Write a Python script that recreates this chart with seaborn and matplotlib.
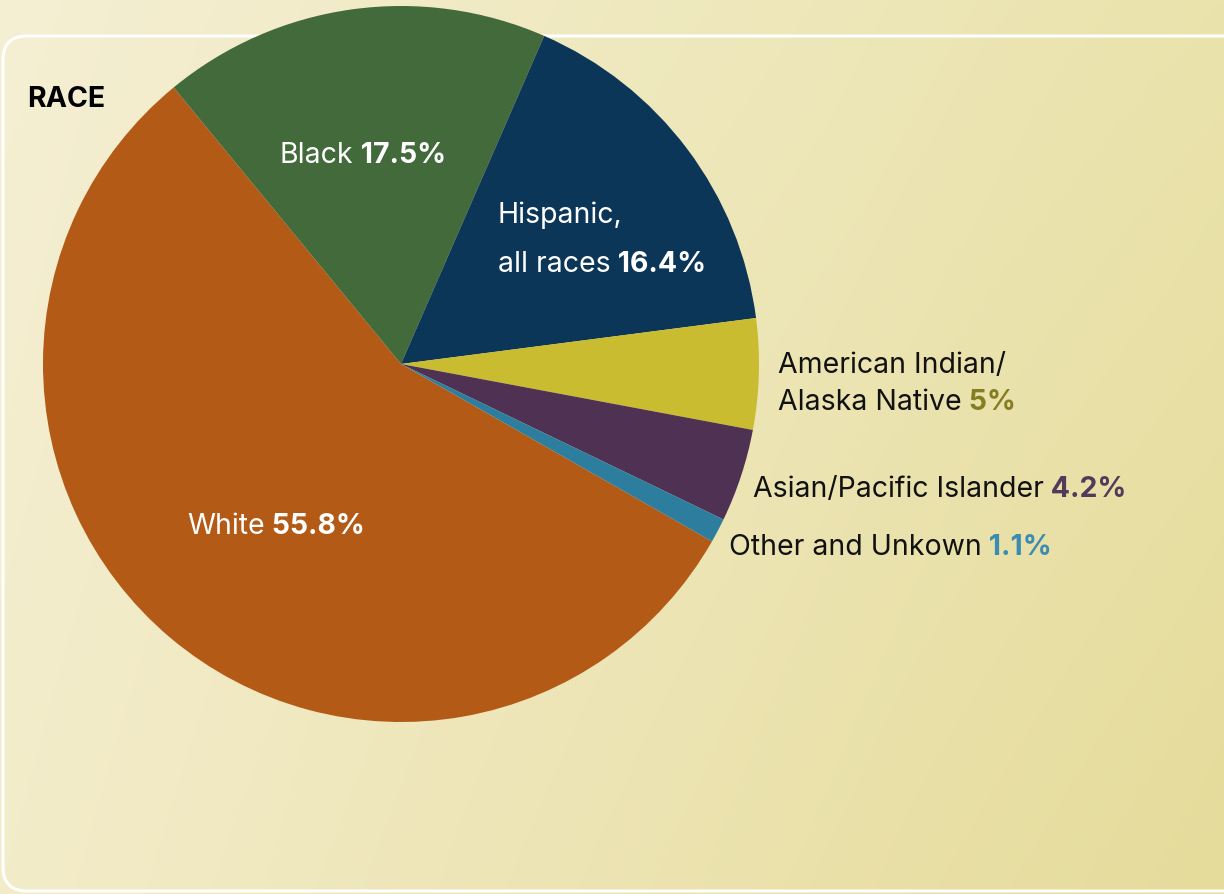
import numpy as np
import matplotlib
matplotlib.use("Agg")
import matplotlib.pyplot as plt
import seaborn as sns
from matplotlib.patches import FancyBboxPatch

# ---- data ----
categories = ["White", "Black", "Hispanic, all races", "American Indian/Alaska Native",
              "Asian/Pacific Islander", "Other and Unkown"]
shares = [55.8, 17.5, 16.4, 5.0, 4.2, 1.1]
share_labels = ["55.8%", "17.5%", "16.4%", "5%", "4.2%", "1.1%"]
slice_colors = ["#B35A17", "#436A3B", "#0C3658", "#C9BC30", "#4E3153", "#2D7D9E"]
title = "RACE"

sns.set_theme(style="white")
FONT = ["Inter", "DejaVu Sans"]
plt.rcParams["font.family"] = FONT

W, H = 1224, 895
fig = plt.figure(figsize=(W / 100, H / 100), dpi=100)

# ---- background gradient ----
bg = fig.add_axes([0, 0, 1, 1], zorder=0)
tl = np.array([0xF5, 0xEF, 0xD4]) / 255
tr = np.array([0xEA, 0xE3, 0xAC]) / 255
bl = np.array([0xF3, 0xEC, 0xC9]) / 255
br = np.array([0xE5, 0xDB, 0x9A]) / 255
u = np.linspace(0, 1, 300)[None, :, None]
v = np.linspace(0, 1, 220)[:, None, None]
grad = (1 - v) * ((1 - u) * tl + u * tr) + v * ((1 - u) * bl + u * br)
bg.imshow(grad, extent=[0, W, H, 0], aspect="auto", interpolation="bilinear")
bg.set_xlim(0, W)
bg.set_ylim(H, 0)
bg.axis("off")
panel = FancyBboxPatch((3, 37), 1260, 855, boxstyle="round,pad=0,rounding_size=24",
                       facecolor="none", edgecolor="white", linewidth=2.2)
bg.add_patch(panel)

# ---- pie ----
cx, cy, r = 401, 365, 358
ax = fig.add_axes([(cx - r) / W, (H - cy - r) / H, 2 * r / W, 2 * r / H], zorder=2)
ax.pie(shares, colors=sns.color_palette(slice_colors), startangle=-29.7,
       counterclock=False, radius=1.0, wedgeprops=dict(linewidth=0))
ax.set_xlim(-1, 1)
ax.set_ylim(-1, 1)
ax.axis("off")


def fpos(x, y):
    return x / W, 1 - y / H


FS = 20.5


def label(x, y, name, pct, color, pctcolor):
    t = fig.text(*fpos(x, y), name, fontsize=FS, color=color, ha="left",
                 va="baseline", zorder=5)
    if pct:
        plt.annotate(" " + pct, xy=(1, 0), xycoords=t, fontsize=FS,
                     fontweight="bold", color=pctcolor, ha="left", va="bottom",
                     annotation_clip=False, zorder=5)
    return t


fig.text(*fpos(27, 107), title, fontsize=FS, fontweight="bold", color="black",
         va="baseline", zorder=5)

label(280, 163, "Black", share_labels[1], "white", "white")
label(498, 223, "Hispanic,", None, "white", "white")
label(498, 272, "all races", share_labels[2], "white", "white")
label(187, 534, "White", share_labels[0], "white", "white")
label(778, 373, "American Indian/", None, "#111111", "#111111")
label(778, 410, "Alaska Native", share_labels[3], "#111111", "#857D21")
label(753, 497, "Asian/Pacific Islander", share_labels[4], "#111111", "#523A5A")
label(729, 555, "Other and Unkown", share_labels[5], "#111111", "#3B8CB0")

fig.savefig("out.png", dpi=100)
